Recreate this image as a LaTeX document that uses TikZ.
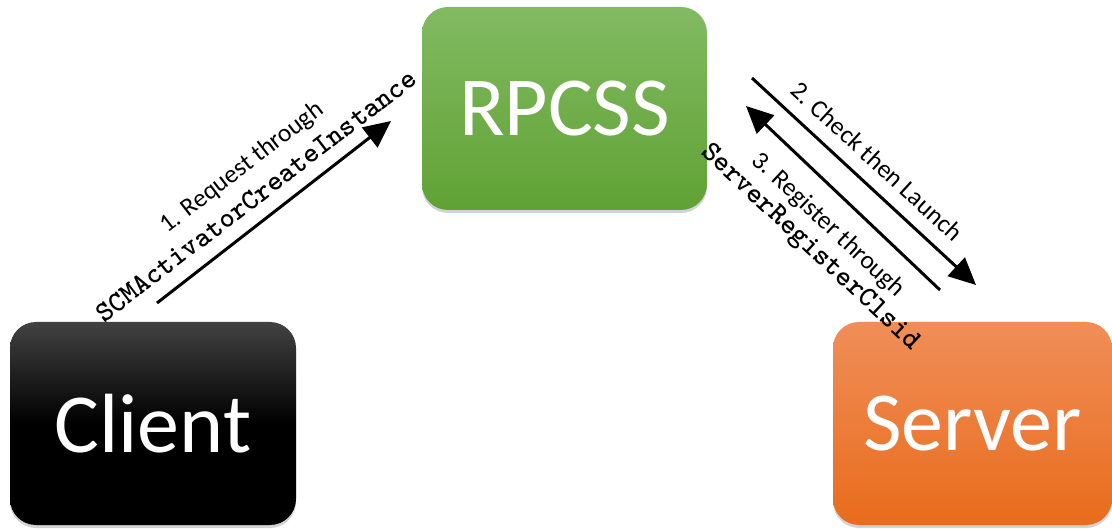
\documentclass[tikz,border=0pt]{standalone}
\usepackage{fontspec}
\setmainfont{Carlito}
\usetikzlibrary{arrows.meta,shadows}

\definecolor{rpcTop}{RGB}{130,186,98}
\definecolor{rpcBot}{RGB}{96,162,52}
\definecolor{cliTop}{RGB}{66,66,66}
\definecolor{srvTop}{RGB}{240,142,88}
\definecolor{srvBot}{RGB}{232,108,28}

\tikzset{
  box/.style={rounded corners=26pt, minimum height=203pt, inner sep=0pt,
    text=white, font=\fontsize{84}{90}\selectfont,
    drop shadow={opacity=0.35, shadow xshift=0pt, shadow yshift=-3pt}},
  flow/.style={line width=3pt, -{Triangle[length=27pt,width=25pt]}},
  steplabel/.style={font=\fontsize{25.5}{27}\selectfont, inner sep=0pt},
  apilabel/.style={font=\ttfamily\bfseries\fontsize{29}{31}\selectfont, inner sep=0pt}
}

\begin{document}
\begin{tikzpicture}[x=1pt,y=-1pt]
  \useasboundingbox (0,0) rectangle (1112,529);

  % the three processes
  \node[box, minimum width=285pt, top color=rpcTop, bottom color=rpcBot]
    (rpcss) at (564.5,108.5) {RPCSS};
  \node[box, minimum width=286pt, top color=cliTop, bottom color=black, middle color=black]
    (client) at (153,423.5) {Client};
  \node[box, minimum width=279pt, top color=srvTop, bottom color=srvBot]
    (server) at (972.5,423.5) {Server};

  % connector end points
  \coordinate (reqS) at (157,303);
  \coordinate (reqE) at (391,121);
  \coordinate (chkS) at (752,78);
  \coordinate (chkE) at (976,285);
  \coordinate (regS) at (940,290);
  \coordinate (regE) at (746,106);

  \draw[flow] (reqS) -- (reqE);
  \draw[flow] (chkS) -- (chkE);
  \draw[flow] (regS) -- (regE);

  % labels
  \node[steplabel, rotate=37.5] (reqtxt) at (242,168) {1. Request through};
  \node[apilabel, rotate=37.5] (reqapi) at (256,196) {SCMActivatorCreateInstance};
  \node[steplabel, rotate=-42.5] (chktxt) at (877,161) {2. Check then Launch};
  \node[steplabel, rotate=-43] (regtxt) at (828,225) {3. Register through};
  \node[apilabel, rotate=-43] (regapi) at (810,248) {ServerRegisterClsid};
\end{tikzpicture}
\end{document}
